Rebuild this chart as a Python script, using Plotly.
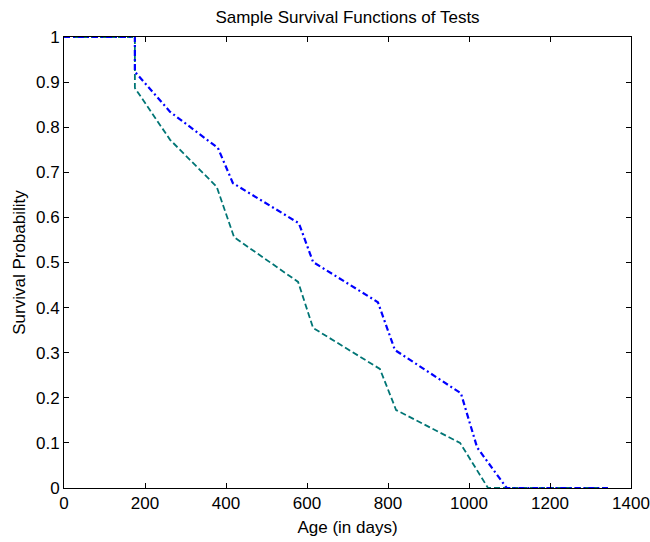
import plotly.graph_objects as go

# Sample survival functions
blue_x = [0, 175, 175, 262, 380, 417, 580, 615, 775, 817, 980, 1020, 1093, 1343]
blue_y = [1, 1, 0.923, 0.834, 0.754, 0.676, 0.587, 0.501, 0.412, 0.306, 0.21, 0.09, 0, 0]

teal_x = [0, 175, 175, 262, 377, 420, 578, 615, 780, 820, 978, 1047, 1343]
teal_y = [1, 1, 0.887, 0.772, 0.668, 0.556, 0.457, 0.355, 0.264, 0.173, 0.10, 0, 0]

x_ticks = [0, 200, 400, 600, 800, 1000, 1200, 1400]
y_ticks = [0, 0.1, 0.2, 0.3, 0.4, 0.5, 0.6, 0.7, 0.8, 0.9, 1]

FONT = "Liberation Sans, Arial, sans-serif"

fig = go.Figure()
fig.add_trace(go.Scatter(x=teal_x, y=teal_y, mode="lines",
                         line=dict(color="#007575", width=1.8, dash="6px,3px"),
                         showlegend=False))
fig.add_trace(go.Scatter(x=blue_x, y=blue_y, mode="lines",
                         line=dict(color="#0000ff", width=2.2, dash="6px,3px,2px,3px"),
                         showlegend=False))

axis_common = dict(showline=True, linecolor="black", linewidth=1, mirror="ticks",
                   ticks="inside", ticklen=5, tickcolor="black", showgrid=False,
                   zeroline=False, automargin=False,
                   tickfont=dict(family=FONT, size=17, color="black"))

fig.update_layout(
    width=650, height=542,
    paper_bgcolor="white", plot_bgcolor="white",
    margin=dict(l=64, r=19, t=37, b=54),
    title=dict(text="Sample Survival Functions of Tests", xref="paper", x=0.5, xanchor="center",
               yref="container", y=1 - 17 / 542, yanchor="middle", automargin=False,
               font=dict(family=FONT, size=17, color="black")),
    xaxis=dict(range=[0, 1400], tickvals=x_ticks,
               title=dict(text="Age (in days)", standoff=8,
                          font=dict(family=FONT, size=17, color="black")),
               **axis_common),
    yaxis=dict(range=[0, 1], tickvals=y_ticks,
               title=dict(text="Survival Probability", standoff=6,
                          font=dict(family=FONT, size=17, color="black")),
               **axis_common),
)

fig.write_html("out.html",
               config={"displayModeBar": False},
               post_script="document.body.style.margin='0';document.body.style.overflow='hidden';")
